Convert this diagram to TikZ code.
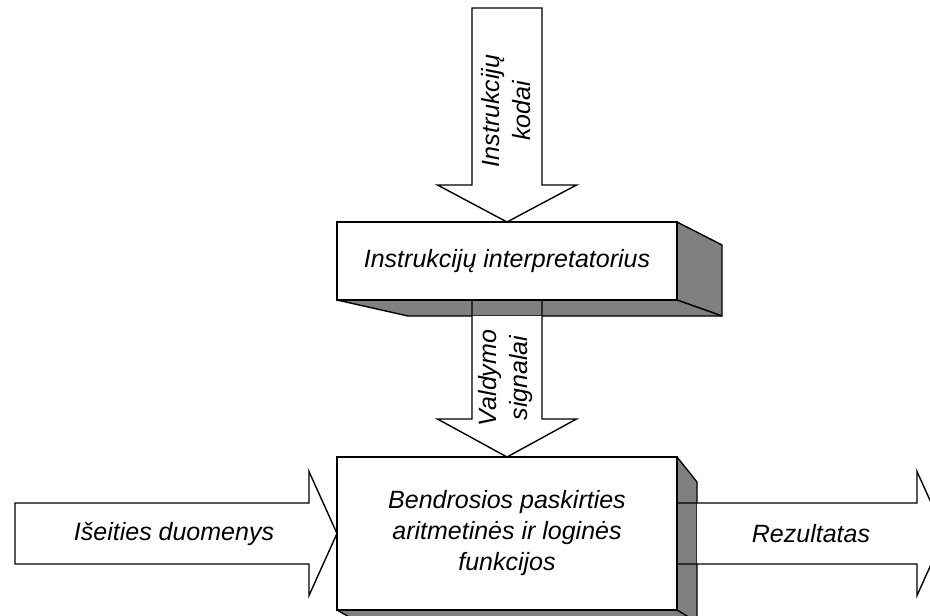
\documentclass[tikz,border=0pt]{standalone}
\usepackage{fontspec}
\setmainfont{Liberation Sans}
\usetikzlibrary{calc}
\definecolor{shade}{RGB}{128,128,128}
\newcommand\labelfont{\fontsize{25}{31}\selectfont\itshape}
\begin{document}
\begin{tikzpicture}[x=1pt,y=-1pt,
  unit/.style={draw=black, line width=1.6pt, fill=white, minimum width=340pt,
    inner sep=0pt, outer sep=0pt, font=\labelfont, align=center},
  face/.style={fill=shade, draw=black, line width=1.4pt, line join=round},
  body/.style={draw=black, line width=1.4pt, line join=miter},
  lbl/.style={font=\labelfont, align=center, inner sep=0pt}]
\clip (0,0) rectangle (930,616);
\fill[white] (0,0) rectangle (930,616);

% extruded sides of the two units
\draw[face] (677,222) -- (722,245) -- (722,316) -- (677,300) -- cycle;
\draw[face] (337,300) -- (408,316) -- (722,316) -- (677,300) -- cycle;
\draw[face] (677,457) -- (697,482) -- (697,630) -- (677,630) -- cycle;
\draw[face] (337,610) -- (358,622) -- (697,622) -- (677,610) -- cycle;

% front faces
\node[unit, minimum height=78pt] (interp) at (507,261) {Instrukcijų interpretatorius};
\node[unit, minimum height=153pt] (alu) at (507,533.5)
  {Bendrosios paskirties\\aritmetinės ir loginės\\funkcijos};

% incoming instruction codes
\draw[body, fill=white] (interp.north) -- ++(-69.5,-37) -- ++(34.5,0) -- ++(0,-177)
  -- ++(70,0) -- ++(0,177) -- ++(34.5,0) -- cycle;
\node[lbl, rotate=90] (codes) at (506,111) {Instrukcijų\\kodai};

% control signals: shaft crosses the shaded underside
\fill[white] ($(interp.south)+(-35,16)$) -- ($(alu.north)+(-35,-38)$)
  -- ($(alu.north)+(-69.5,-38)$) -- (alu.north) -- ($(alu.north)+(69.5,-38)$)
  -- ($(alu.north)+(35,-38)$) -- ($(interp.south)+(35,16)$) -- cycle;
\draw[body] ($(interp.south)+(-35,0)$) -- ($(alu.north)+(-35,-38)$)
  -- ($(alu.north)+(-69.5,-38)$) -- (alu.north) -- ($(alu.north)+(69.5,-38)$)
  -- ($(alu.north)+(35,-38)$) -- ($(interp.south)+(35,0)$);
\node[lbl, rotate=90] (signals) at (506,378) {Valdymo\\signalai};

% source data
\draw[body, fill=white] (alu.west) -- ++(-28,-62) -- ++(0,31.5) -- ++(-294,0)
  -- ++(0,61) -- ++(294,0) -- ++(0,31.5) -- cycle;
\node[lbl] (source) at (174,533.5) {Išeities duomenys};

% result
\fill[white] ($(alu.east)+(20,-30.5)$) -- ++(220,0) -- ++(0,-31.5) -- ++(28,62)
  -- ++(-28,62) -- ++(0,-31.5) -- ++(-220,0) -- cycle;
\draw[body] ($(alu.east)+(0,-30.5)$) -- ++(240,0) -- ++(0,-31.5) -- ++(28,62)
  -- ++(-28,62) -- ++(0,-31.5) -- ++(-240,0);
\node[lbl] (result) at (811,533.5) {Rezultatas};
\end{tikzpicture}
\end{document}
